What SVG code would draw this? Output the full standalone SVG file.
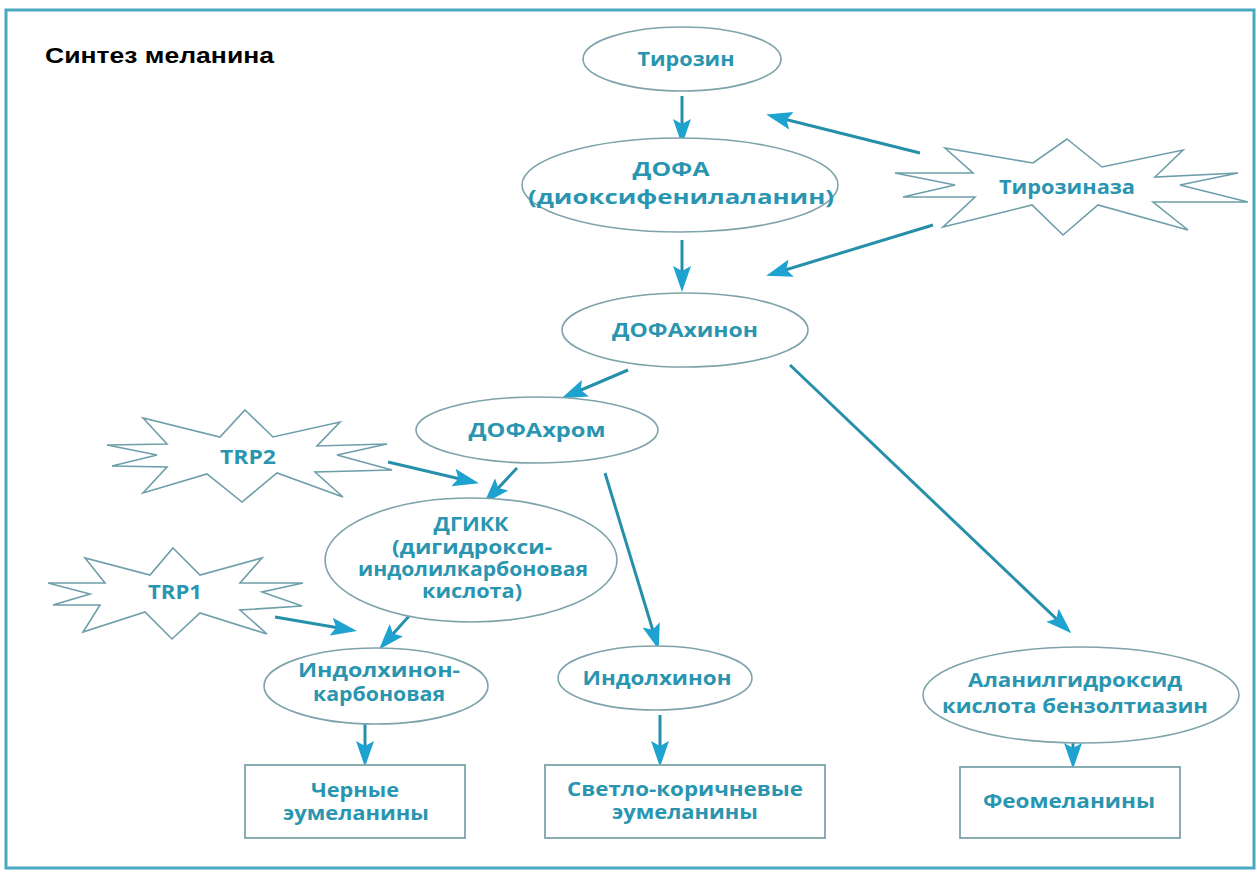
<svg xmlns="http://www.w3.org/2000/svg" width="1257" height="874" viewBox="0 0 1257 874">
<style>
.frame{fill:#ffffff;stroke:#49a9c2;stroke-width:3}
.el{fill:#ffffff;stroke:#7ea3ab;stroke-width:1.6}
.star{fill:#ffffff;stroke:#6d9ea9;stroke-width:1.6;stroke-linejoin:miter}
.box{fill:#ffffff;stroke:#7ea3ab;stroke-width:1.8}
.t{font-family:"Open Sans","Noto Sans","DejaVu Sans",sans-serif;font-weight:700;fill:#2a95b0;text-anchor:middle;font-size:20px}
.title{font-family:"Liberation Sans",Arial,sans-serif;font-weight:700;fill:#000;font-size:22px}
.ln{stroke:#2690ab;stroke-width:3;fill:none;marker-end:url(#ah)}
</style>
<defs>
<marker id="ah" markerUnits="userSpaceOnUse" markerWidth="26" markerHeight="20" viewBox="0 0 26 20" refX="20" refY="10" orient="auto">
<path d="M0,1 L26,10 L0,19 L5,10 z" fill="#1ea2cf"/>
</marker>
</defs>
<rect class="frame" x="6" y="10" width="1248" height="858"/>
<text class="title" x="45" y="63" textLength="229" lengthAdjust="spacingAndGlyphs">Синтез меланина</text>

<g id="connectors">
<line class="ln" x1="682" y1="96" x2="682" y2="139"/>
<line class="ln" x1="682" y1="240" x2="682" y2="286"/>
<line class="ln" x1="920" y1="153" x2="772" y2="116"/>
<line class="ln" x1="933" y1="225" x2="772" y2="274"/>
<line class="ln" x1="628" y1="370" x2="567" y2="396"/>
<line class="ln" x1="790" y1="365" x2="1067" y2="629"/>
<line class="ln" x1="517" y1="468" x2="488" y2="499"/>
<line class="ln" x1="388" y1="462" x2="473" y2="482"/>
<line class="ln" x1="605" y1="473" x2="657" y2="644"/>
<line class="ln" x1="275" y1="617" x2="351" y2="630"/>
<line class="ln" x1="410" y1="615" x2="383" y2="645"/>
<line class="ln" x1="365" y1="716" x2="365" y2="761"/>
<line class="ln" x1="660" y1="715" x2="660" y2="761"/>
<line class="ln" x1="1073" y1="730" x2="1073" y2="763"/>
</g>

<g id="tyrosine">
<ellipse class="el" cx="682" cy="59" rx="99" ry="32"/>
<text class="t" x="686" y="66" textLength="97" lengthAdjust="spacingAndGlyphs">Тирозин</text>
</g>
<g id="dopa">
<ellipse class="el" cx="680" cy="185" rx="158" ry="47"/>
<text class="t"><tspan x="671" y="176" textLength="77" lengthAdjust="spacingAndGlyphs">ДОФА</tspan><tspan x="681" y="204" textLength="306" lengthAdjust="spacingAndGlyphs">(диоксифенилаланин)</tspan></text>
</g>
<g id="tyrosinase">
<polygon class="star" points="1067,139 1102,167 1183,150 1155,177 1238,173 1180,185 1248,202 1153,202 1188,230 1098,205 1063,235 1032,205 943,227 975,197 903,197 955,185 895,173 973,173 945,148 1033,163"/>
<text class="t" x="1067" y="194" textLength="136" lengthAdjust="spacingAndGlyphs">Тирозиназа</text>
</g>
<g id="dopaquinone">
<ellipse class="el" cx="685" cy="330" rx="123" ry="37"/>
<text class="t" x="685" y="337" textLength="146" lengthAdjust="spacingAndGlyphs">ДОФАхинон</text>
</g>
<g id="dopachrome">
<ellipse class="el" cx="537" cy="430" rx="121" ry="33"/>
<text class="t" x="537" y="437" textLength="137" lengthAdjust="spacingAndGlyphs">ДОФАхром</text>
</g>
<g id="trp2">
<polygon class="star" points="245,410 273,437 340,422 317,446 387,444 337,455 392,470 315,472 343,497 277,473 242,502 207,474 143,493 167,467 112,466 157,455 107,445 167,444 143,418 220,437"/>
<text class="t" x="248" y="464" textLength="56" lengthAdjust="spacingAndGlyphs">TRP2</text>
</g>
<g id="dhica">
<ellipse class="el" cx="471" cy="560" rx="146" ry="62"/>
<text class="t" font-size="18"><tspan x="471" y="531" textLength="75" lengthAdjust="spacingAndGlyphs">ДГИКК</tspan><tspan x="472" y="554" textLength="160" lengthAdjust="spacingAndGlyphs">(дигидрокси-</tspan><tspan x="473" y="576" textLength="230" lengthAdjust="spacingAndGlyphs">индолилкарбоновая</tspan><tspan x="472" y="598" textLength="100" lengthAdjust="spacingAndGlyphs">кислота)</tspan></text>
</g>
<g id="trp1">
<polygon class="star" points="173,548 200,575 262,558 240,583 303,583 262,592 302,606 240,610 267,634 200,613 172,639 145,612 83,632 100,605 53,605 90,594 48,583 105,583 85,558 150,575"/>
<text class="t" x="175" y="599" textLength="54" lengthAdjust="spacingAndGlyphs">TRP1</text>
</g>
<g id="indolequinone-carboxylic">
<ellipse class="el" cx="376" cy="686" rx="112" ry="38"/>
<text class="t" font-size="18"><tspan x="379" y="677" textLength="162" lengthAdjust="spacingAndGlyphs">Индолхинон-</tspan><tspan x="379" y="701" textLength="132" lengthAdjust="spacingAndGlyphs">карбоновая</tspan></text>
</g>
<g id="indolequinone">
<ellipse class="el" cx="655" cy="678" rx="97" ry="32"/>
<text class="t" x="657" y="685" font-size="19" textLength="149" lengthAdjust="spacingAndGlyphs">Индолхинон</text>
</g>
<g id="benzothiazine">
<ellipse class="el" cx="1081" cy="695" rx="158" ry="48"/>
<text class="t" font-size="19"><tspan x="1075" y="687" textLength="214" lengthAdjust="spacingAndGlyphs">Аланилгидроксид</tspan><tspan x="1075" y="713" textLength="266" lengthAdjust="spacingAndGlyphs">кислота бензолтиазин</tspan></text>
</g>
<g id="black-eumelanin">
<rect class="box" x="245" y="765" width="220" height="73"/>
<text class="t" font-size="17"><tspan x="355" y="797" textLength="88" lengthAdjust="spacingAndGlyphs">Черные</tspan><tspan x="356" y="820" textLength="146" lengthAdjust="spacingAndGlyphs">эумеланины</tspan></text>
</g>
<g id="brown-eumelanin">
<rect class="box" x="545" y="765" width="280" height="73"/>
<text class="t" font-size="17"><tspan x="685" y="796" textLength="236" lengthAdjust="spacingAndGlyphs">Светло-коричневые</tspan><tspan x="685" y="819" textLength="146" lengthAdjust="spacingAndGlyphs">эумеланины</tspan></text>
</g>
<g id="pheomelanin">
<rect class="box" x="960" y="767" width="220" height="71"/>
<text class="t" x="1069" y="808" font-size="18" textLength="172" lengthAdjust="spacingAndGlyphs">Феомеланины</text>
</g>
</svg>
